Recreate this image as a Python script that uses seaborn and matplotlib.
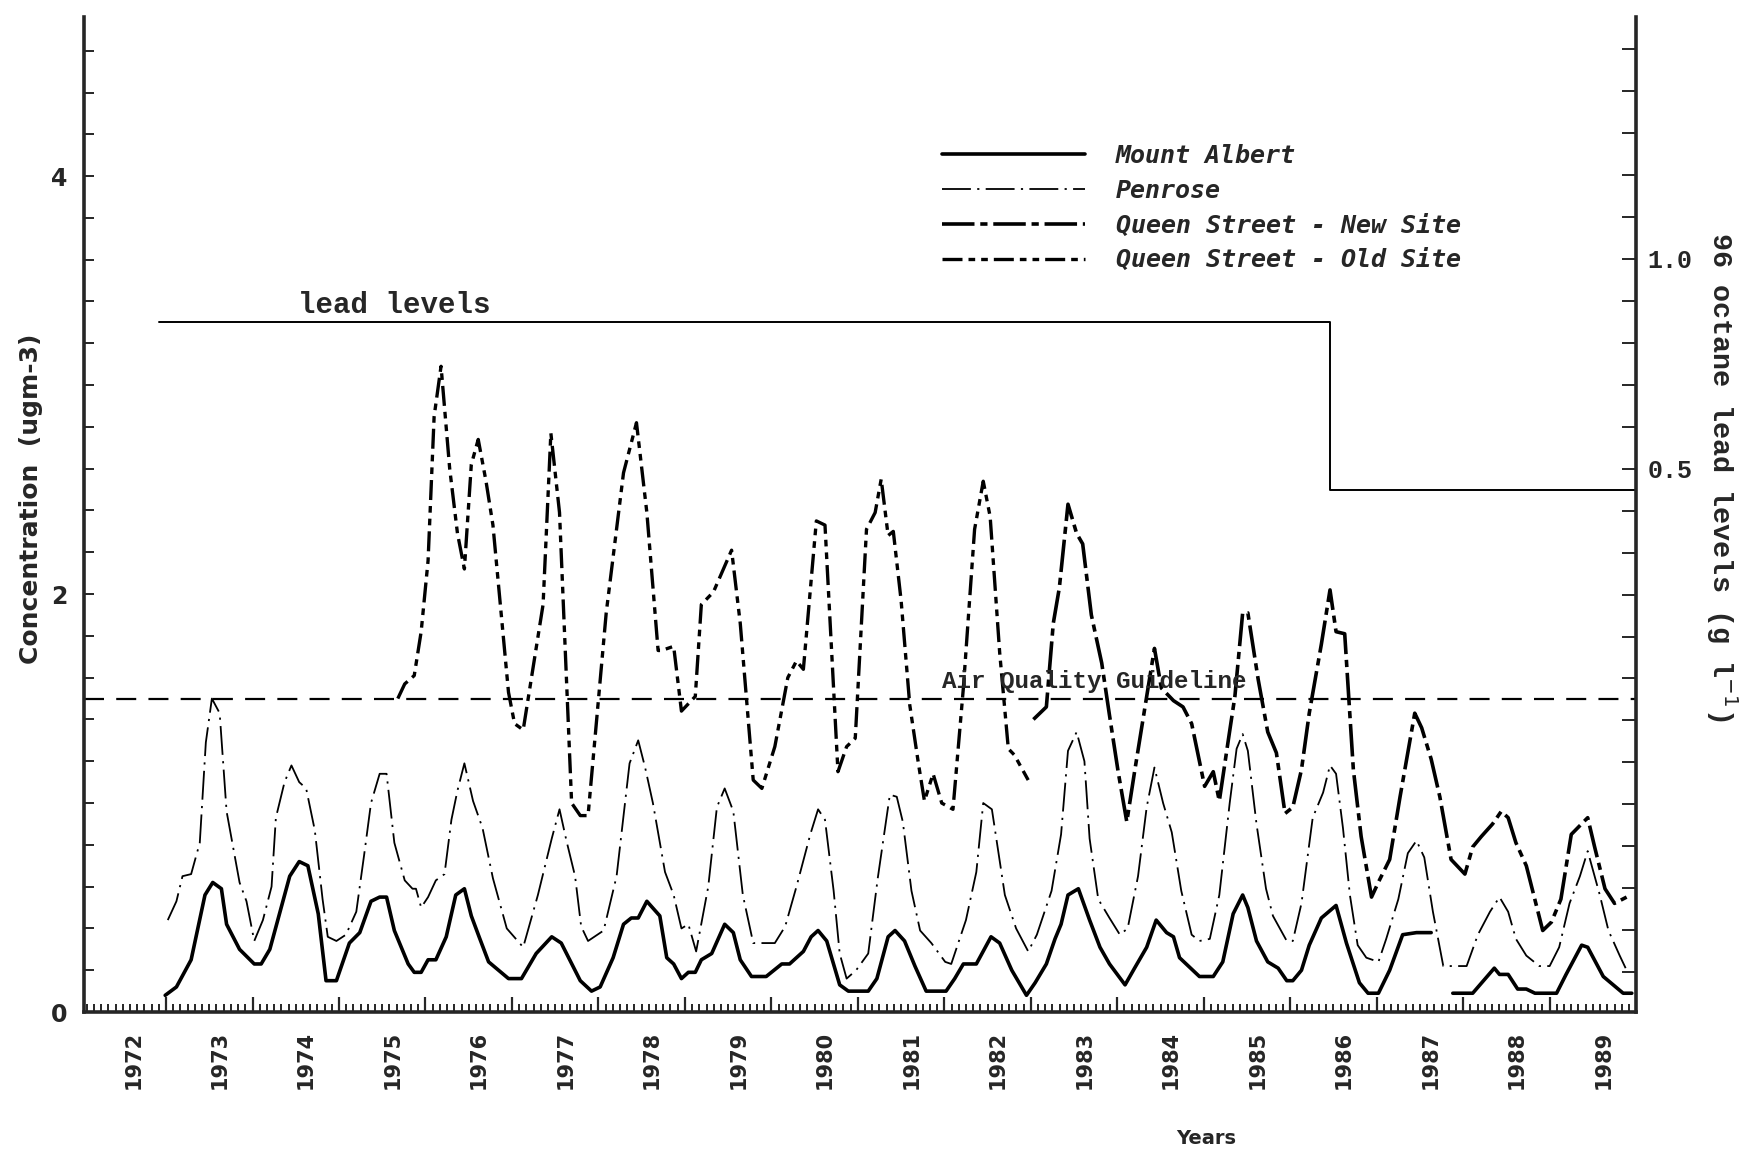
import numpy as np
import pandas as pd
import matplotlib
matplotlib.use("Agg")
import matplotlib.pyplot as plt
from matplotlib.ticker import FixedLocator, MultipleLocator
import seaborn as sns

# Mount Albert (solid) - two pieces, there is a gap in 1987
mount_albert_years = [1972.99, 1973.12, 1973.29, 1973.45, 1973.54, 1973.64, 1973.70, 1973.85, 1974.02, 1974.10,
                      1974.20, 1974.43, 1974.54, 1974.64, 1974.76, 1974.85, 1974.97, 1975.12, 1975.24, 1975.37,
                      1975.47, 1975.55, 1975.64, 1975.80, 1975.87, 1975.95, 1976.03, 1976.12, 1976.24, 1976.35,
                      1976.45, 1976.53, 1976.62, 1976.73, 1976.96, 1977.11, 1977.28, 1977.46, 1977.57, 1977.79,
                      1977.92, 1978.02, 1978.17, 1978.29, 1978.38, 1978.46, 1978.56, 1978.71, 1978.79, 1978.87,
                      1978.96, 1979.04, 1979.12, 1979.19, 1979.31, 1979.46, 1979.56, 1979.64, 1979.77, 1979.94,
                      1980.12, 1980.21, 1980.37, 1980.46, 1980.54, 1980.64, 1980.79, 1980.89, 1981.12, 1981.22,
                      1981.35, 1981.43, 1981.54, 1981.66, 1981.79, 1982.02, 1982.12, 1982.22, 1982.37, 1982.54,
                      1982.64, 1982.78, 1982.95, 1983.05, 1983.18, 1983.28, 1983.35, 1983.43, 1983.55, 1983.68,
                      1983.80, 1983.91, 1984.09, 1984.20, 1984.34, 1984.45, 1984.57, 1984.65, 1984.72, 1984.95,
                      1985.11, 1985.22, 1985.34, 1985.45, 1985.51, 1985.61, 1985.74, 1985.86, 1985.96, 1986.03,
                      1986.13, 1986.22, 1986.36, 1986.53, 1986.65, 1986.80, 1986.90, 1987.02, 1987.15, 1987.30,
                      1987.46, 1987.63]
mount_albert_values = [0.08, 0.12, 0.25, 0.56, 0.62, 0.59, 0.42, 0.30, 0.23, 0.23,
                       0.30, 0.65, 0.72, 0.70, 0.47, 0.15, 0.15, 0.33, 0.38, 0.53,
                       0.55, 0.55, 0.39, 0.23, 0.19, 0.19, 0.25, 0.25, 0.36, 0.56,
                       0.59, 0.46, 0.36, 0.24, 0.16, 0.16, 0.28, 0.36, 0.33, 0.15,
                       0.10, 0.12, 0.26, 0.42, 0.45, 0.45, 0.53, 0.46, 0.26, 0.23,
                       0.16, 0.19, 0.19, 0.25, 0.28, 0.42, 0.38, 0.25, 0.17, 0.17,
                       0.23, 0.23, 0.29, 0.36, 0.39, 0.34, 0.13, 0.10, 0.10, 0.16,
                       0.36, 0.39, 0.34, 0.22, 0.10, 0.10, 0.16, 0.23, 0.23, 0.36,
                       0.33, 0.20, 0.08, 0.14, 0.23, 0.35, 0.42, 0.56, 0.59, 0.44,
                       0.31, 0.23, 0.13, 0.21, 0.31, 0.44, 0.38, 0.36, 0.26, 0.17,
                       0.17, 0.24, 0.47, 0.56, 0.50, 0.34, 0.24, 0.21, 0.15, 0.15,
                       0.20, 0.32, 0.45, 0.51, 0.33, 0.14, 0.09, 0.09, 0.20, 0.37,
                       0.38, 0.38]
mount_albert_years2 = [1987.88, 1988.11, 1988.36, 1988.42, 1988.52, 1988.63, 1988.73, 1988.83, 1989.08, 1989.19,
                       1989.37, 1989.44, 1989.62, 1989.85, 1989.95]
mount_albert_values2 = [0.09, 0.09, 0.21, 0.18, 0.18, 0.11, 0.11, 0.09, 0.09, 0.18,
                        0.32, 0.31, 0.17, 0.09, 0.09]

penrose_years = [1973.02, 1973.12, 1973.19, 1973.29, 1973.39, 1973.46, 1973.53, 1973.62, 1973.70, 1973.85,
                 1973.93, 1974.02, 1974.12, 1974.22, 1974.27, 1974.37, 1974.45, 1974.54, 1974.62, 1974.72,
                 1974.81, 1974.87, 1974.97, 1975.08, 1975.20, 1975.29, 1975.37, 1975.47, 1975.55, 1975.64,
                 1975.76, 1975.85, 1975.89, 1975.95, 1976.03, 1976.12, 1976.22, 1976.30, 1976.37, 1976.45,
                 1976.55, 1976.66, 1976.78, 1976.94, 1977.13, 1977.30, 1977.46, 1977.55, 1977.63, 1977.73,
                 1977.80, 1977.88, 1978.06, 1978.21, 1978.36, 1978.46, 1978.54, 1978.63, 1978.77, 1978.87,
                 1978.96, 1979.04, 1979.13, 1979.27, 1979.37, 1979.46, 1979.56, 1979.67, 1979.79, 1980.04,
                 1980.16, 1980.29, 1980.45, 1980.54, 1980.62, 1980.72, 1980.79, 1980.87, 1980.98, 1981.12,
                 1981.23, 1981.37, 1981.45, 1981.52, 1981.62, 1981.72, 1981.85, 1982.01, 1982.08, 1982.25,
                 1982.37, 1982.45, 1982.55, 1982.70, 1982.83, 1982.97, 1983.07, 1983.24, 1983.35, 1983.43,
                 1983.53, 1983.62, 1983.68, 1983.78, 1983.91, 1984.03, 1984.12, 1984.24, 1984.34, 1984.43,
                 1984.53, 1984.63, 1984.74, 1984.86, 1984.95, 1985.07, 1985.18, 1985.30, 1985.38, 1985.45,
                 1985.51, 1985.61, 1985.72, 1985.80, 1985.96, 1986.03, 1986.13, 1986.26, 1986.38, 1986.46,
                 1986.53, 1986.61, 1986.69, 1986.78, 1986.88, 1987.02, 1987.11, 1987.25, 1987.36, 1987.46,
                 1987.55, 1987.65, 1987.77, 1988.04, 1988.17, 1988.31, 1988.42, 1988.52, 1988.61, 1988.73,
                 1988.88, 1989.00, 1989.11, 1989.23, 1989.35, 1989.44, 1989.58, 1989.68, 1989.81, 1989.89]
penrose_values = [0.44, 0.53, 0.65, 0.66, 0.81, 1.29, 1.50, 1.43, 0.96, 0.62,
                  0.53, 0.34, 0.44, 0.60, 0.93, 1.10, 1.18, 1.10, 1.07, 0.87,
                  0.54, 0.36, 0.34, 0.37, 0.48, 0.75, 1.00, 1.14, 1.14, 0.81,
                  0.63, 0.59, 0.59, 0.50, 0.55, 0.63, 0.66, 0.92, 1.06, 1.19,
                  1.01, 0.88, 0.64, 0.40, 0.31, 0.56, 0.83, 0.97, 0.82, 0.65,
                  0.41, 0.34, 0.39, 0.65, 1.19, 1.30, 1.17, 1.00, 0.67, 0.56,
                  0.40, 0.42, 0.29, 0.60, 0.98, 1.07, 0.96, 0.56, 0.33, 0.33,
                  0.41, 0.60, 0.85, 0.97, 0.92, 0.58, 0.28, 0.16, 0.20, 0.28,
                  0.64, 1.04, 1.03, 0.91, 0.58, 0.39, 0.33, 0.24, 0.23, 0.44,
                  0.67, 1.00, 0.97, 0.56, 0.40, 0.29, 0.37, 0.58, 0.85, 1.25,
                  1.34, 1.20, 0.83, 0.54, 0.45, 0.37, 0.40, 0.65, 0.98, 1.17,
                  1.00, 0.86, 0.58, 0.37, 0.34, 0.35, 0.56, 1.00, 1.26, 1.33,
                  1.25, 0.90, 0.59, 0.46, 0.34, 0.34, 0.52, 0.93, 1.05, 1.18,
                  1.14, 0.88, 0.56, 0.32, 0.26, 0.24, 0.35, 0.54, 0.76, 0.82,
                  0.74, 0.48, 0.22, 0.22, 0.37, 0.48, 0.55, 0.48, 0.35, 0.27,
                  0.22, 0.22, 0.31, 0.52, 0.65, 0.77, 0.56, 0.39, 0.27, 0.20]

queen_new_years = [1983.03, 1983.18, 1983.26, 1983.33, 1983.43, 1983.53, 1983.60, 1983.70, 1983.82, 1983.91,
                   1984.01, 1984.11, 1984.20, 1984.34, 1984.43, 1984.51, 1984.65, 1984.76, 1984.86, 1985.01,
                   1985.11, 1985.18, 1985.28, 1985.36, 1985.45, 1985.51, 1985.63, 1985.74, 1985.84, 1985.94,
                   1986.03, 1986.13, 1986.22, 1986.36, 1986.46, 1986.53, 1986.63, 1986.73, 1986.82, 1986.94,
                   1987.03, 1987.15, 1987.27, 1987.44, 1987.52, 1987.63, 1987.73, 1987.86, 1988.02, 1988.11,
                   1988.21, 1988.34, 1988.44, 1988.52, 1988.61, 1988.73, 1988.92, 1989.02, 1989.13, 1989.25,
                   1989.44, 1989.52, 1989.64, 1989.75, 1989.89]
queen_new_values = [1.40, 1.46, 1.86, 2.03, 2.43, 2.29, 2.24, 1.90, 1.67, 1.42,
                    1.15, 0.91, 1.15, 1.51, 1.74, 1.55, 1.49, 1.46, 1.38, 1.08,
                    1.15, 1.01, 1.29, 1.51, 1.91, 1.91, 1.59, 1.34, 1.24, 0.95,
                    0.98, 1.16, 1.43, 1.76, 2.02, 1.82, 1.81, 1.16, 0.84, 0.55,
                    0.63, 0.73, 1.03, 1.43, 1.36, 1.21, 1.03, 0.73, 0.66, 0.79,
                    0.84, 0.90, 0.96, 0.93, 0.81, 0.70, 0.39, 0.43, 0.54, 0.85,
                    0.93, 0.79, 0.59, 0.52, 0.55]

queen_old_years = [1975.68, 1975.76, 1975.87, 1975.95, 1976.03, 1976.10, 1976.18, 1976.28, 1976.37, 1976.45,
                   1976.53, 1976.61, 1976.70, 1976.78, 1976.96, 1977.03, 1977.13, 1977.36, 1977.45, 1977.55,
                   1977.69, 1977.79, 1977.88, 1978.09, 1978.29, 1978.44, 1978.56, 1978.69, 1978.73, 1978.87,
                   1978.96, 1979.12, 1979.19, 1979.33, 1979.54, 1979.64, 1979.79, 1979.89, 1980.04, 1980.19,
                   1980.29, 1980.37, 1980.52, 1980.62, 1980.77, 1980.87, 1980.97, 1981.10, 1981.20, 1981.27,
                   1981.35, 1981.41, 1981.50, 1981.60, 1981.70, 1981.77, 1981.87, 1981.97, 1982.10, 1982.22,
                   1982.35, 1982.45, 1982.53, 1982.64, 1982.74, 1982.81, 1982.97]
queen_old_values = [1.50, 1.57, 1.61, 1.82, 2.16, 2.85, 3.09, 2.60, 2.29, 2.12,
                    2.62, 2.74, 2.54, 2.33, 1.53, 1.38, 1.35, 1.95, 2.77, 2.39,
                    1.00, 0.94, 0.94, 1.91, 2.58, 2.82, 2.39, 1.73, 1.73, 1.75,
                    1.44, 1.51, 1.95, 2.01, 2.21, 1.86, 1.11, 1.07, 1.27, 1.60,
                    1.68, 1.64, 2.35, 2.33, 1.15, 1.27, 1.31, 2.31, 2.39, 2.55,
                    2.28, 2.30, 1.97, 1.47, 1.19, 1.01, 1.14, 1.00, 0.97, 1.55,
                    2.31, 2.54, 2.37, 1.72, 1.26, 1.23, 1.11]

# 96 octane lead content (right axis), step down in mid 1986
lead_years = [1972.92, 1986.46, 1990.0]
lead_values = [0.85, 0.45, 0.45]

guideline = 1.5
year_labels = list(range(1972, 1990))

# ---------------------------------------------------------------
sns.set_style("ticks")
plt.rcParams['font.family'] = ['DejaVu Sans']

fig = plt.figure(figsize=(17.48, 11.52), dpi=100)
ax = fig.add_axes([0.048, 0.1215, 0.888, 0.8635])
ax2 = ax.twinx()

mono = dict(family='Liberation Mono', weight='bold')

# series
sns.lineplot(x=mount_albert_years, y=mount_albert_values, ax=ax, color='black',
             linewidth=2.6, estimator=None, sort=False)
h_albert = ax.lines[-1]
sns.lineplot(x=mount_albert_years2, y=mount_albert_values2, ax=ax, color='black',
             linewidth=2.6, estimator=None, sort=False)
sns.lineplot(x=penrose_years, y=penrose_values, ax=ax, color='black', linewidth=1.3,
             linestyle=(0, (16, 3.5, 1.2, 3.5)), estimator=None, sort=False)
h_penrose = ax.lines[-1]
sns.lineplot(x=queen_new_years, y=queen_new_values, ax=ax, color='black', linewidth=2.6,
             linestyle=(0, (9, 1.6, 2, 1.6)), estimator=None, sort=False)
h_new = ax.lines[-1]
sns.lineplot(x=queen_old_years, y=queen_old_values, ax=ax, color='black', linewidth=2.4,
             linestyle=(0, (6, 1.8, 2, 1.8, 2, 1.8)), estimator=None, sort=False)
h_old = ax.lines[-1]

# air quality guideline
ax.axhline(guideline, color='black', linewidth=1.6, linestyle=(0, (9, 5.5)))
ax.text(1981.97, guideline + 0.08, 'Air Quality Guideline', fontsize=17.5, va='center', ha='left', **mono)

# lead levels on right axis
sns.lineplot(x=lead_years, y=lead_values, ax=ax2, color='black', linewidth=1.4,
             drawstyle='steps-post', estimator=None, sort=False)
ax2.text(1974.53, 0.89, 'lead levels', fontsize=21, va='center', ha='left', **mono)

# axes limits
ax.set_xlim(1972.05, 1990.0)
ax.set_ylim(0, 4.76)
ax2.set_ylim(-0.795, 1.576)

# x ticks: january major, monthly minor, labels in the middle of the year
ax.set_xticks(year_labels[1:], [''] * len(year_labels[1:]))
ax.xaxis.set_minor_locator(MultipleLocator(1 / 12))
ax.tick_params(axis='x', which='major', direction='in', length=11, width=1.6)
ax.tick_params(axis='x', which='minor', direction='in', length=6, width=1.4)
for yr in year_labels:
    ax.text(yr + 0.62, -0.019, str(yr), rotation=90, ha='center', va='top', fontsize=15,
            fontweight='bold', transform=ax.get_xaxis_transform())

# left y ticks
ax.set_yticks([0, 2, 4], ['0', '2', '4'])
ax.yaxis.set_minor_locator(MultipleLocator(0.2))
ax.tick_params(axis='y', which='both', direction='in', length=7, width=1.4, pad=12, labelsize=17)
for lab in ax.get_yticklabels():
    lab.set_fontweight('bold')

# right y ticks
ax2.set_yticks([0.5, 1.0], ['0.5', '1.0'])
ax2.yaxis.set_minor_locator(FixedLocator(np.round(np.arange(-0.7, 1.55, 0.1), 2)))
ax2.tick_params(axis='y', which='both', direction='in', length=10, width=1.4, pad=8, labelsize=18)
for lab in ax2.get_yticklabels():
    lab.set_family('Liberation Mono')
    lab.set_fontweight('bold')

for s in ['top', 'right']:
    ax.spines[s].set_visible(False)
for s in ['top', 'left', 'bottom']:
    ax2.spines[s].set_visible(False)
ax.spines['left'].set_linewidth(2.6)
ax.spines['bottom'].set_linewidth(2.6)
ax2.spines['right'].set_linewidth(2.6)

# axis titles
fig.text(0.0177, 0.567, 'Concentration  (ugm-3)', rotation=90, ha='center', va='center',
         fontsize=18, fontweight='bold')
fig.text(0.690, 0.012, 'Years', ha='center', va='center', fontsize=14, fontweight='bold')
fig.text(0.985, 0.586, r'96 octane lead levels (g l$^{-1}$)', rotation=270, ha='center', va='center',
         fontsize=20.5, **mono)

# legend
leg = ax.legend([h_albert, h_penrose, h_new, h_old],
                ['Mount Albert', 'Penrose', 'Queen Street - New Site', 'Queen Street - Old Site'],
                loc='upper left', bbox_to_anchor=(0.539, 0.875), bbox_transform=fig.transFigure,
                frameon=False, handlelength=5.7, handletextpad=1.25, labelspacing=0.43,
                borderpad=0, borderaxespad=0,
                prop=dict(family='DejaVu Sans Mono', weight='bold', style='italic', size=18))

fig.savefig('out.png', dpi=100)
